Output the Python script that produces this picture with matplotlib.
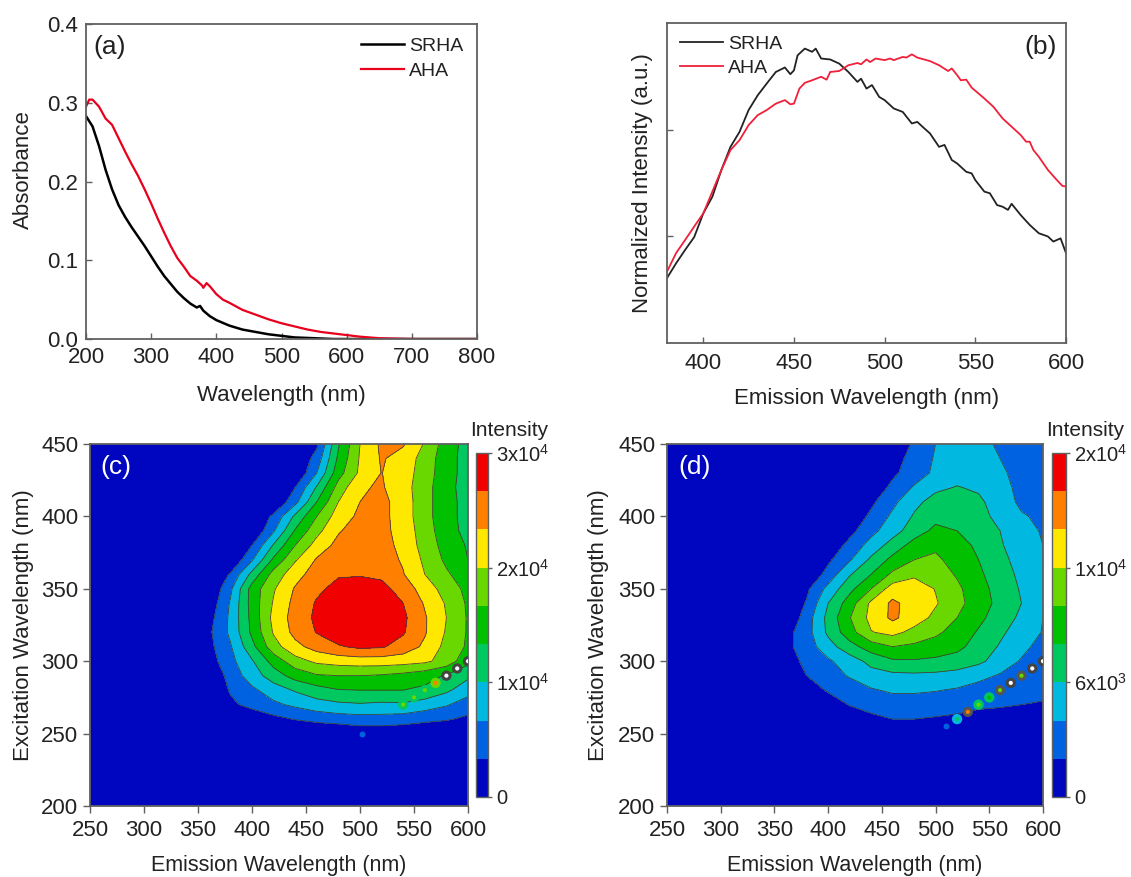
import numpy as np
import matplotlib
matplotlib.use('Agg')
import matplotlib.pyplot as plt

plt.rcParams['font.family'] = ['Liberation Sans', 'DejaVu Sans']
plt.rcParams['mathtext.default'] = 'regular'
plt.rcParams['text.color'] = '#222222'
plt.rcParams['axes.labelcolor'] = '#222222'
plt.rcParams['xtick.color'] = '#222222'
plt.rcParams['ytick.color'] = '#222222'

W, H = 1131, 877

# panel a
abs_wl_srha = [200, 210, 220, 230, 240, 250, 260, 270, 280, 290, 300, 310, 320, 330, 340, 350, 360, 370, 375, 380,
               390, 400, 420, 440, 460, 480, 500, 520, 550, 580, 800]
abs_srha = [0.283, 0.270, 0.245, 0.215, 0.190, 0.170, 0.155, 0.142, 0.130, 0.118, 0.105, 0.092, 0.080, 0.070, 0.060,
            0.052, 0.045, 0.040, 0.042, 0.036, 0.029, 0.024, 0.017, 0.012, 0.009, 0.006, 0.004, 0.002, 0.001, 0.0, 0.0]
abs_wl_aha = [200, 205, 210, 220, 230, 240, 250, 260, 270, 280, 290, 300, 310, 320, 330, 340, 350, 360, 370, 378,
              380, 385, 390, 400, 410, 420, 440, 460, 480, 500, 520, 540, 560, 580, 600, 620, 650, 700, 800]
abs_aha = [0.295, 0.304, 0.304, 0.295, 0.280, 0.272, 0.255, 0.238, 0.222, 0.207, 0.190, 0.172, 0.153, 0.135, 0.118,
           0.103, 0.092, 0.080, 0.074, 0.068, 0.065, 0.071, 0.067, 0.057, 0.050, 0.046, 0.037, 0.031, 0.025, 0.020,
           0.016, 0.012, 0.009, 0.007, 0.005, 0.003, 0.001, 0.0, 0.0]

# panel b
pl_wl_srha = [380, 385, 390, 395, 400, 405, 410, 415, 420, 425, 430, 435, 440, 445, 448, 450, 452, 456, 460, 462,
              465, 470, 475, 480, 485, 487, 490, 493, 497, 500, 505, 510, 515, 518, 522, 525, 530, 533, 537, 540,
              545, 548, 550, 555, 558, 562, 565, 568, 570, 575, 580, 585, 590, 593, 597, 600]
pl_srha = [.203, .249, .291, .331, .405, .457, .541, .613, .660, .728, .774, .811, .847, .861, .840, .852, .899, .920,
           .910, .920, .889, .886, .873, .847, .816, .826, .795, .806, .769, .759, .733, .722, .686, .691, .670, .655,
           .613, .619, .572, .561, .535, .530, .509, .473, .468, .431, .426, .416, .435, .400, .369, .343, .333, .317,
           .327, .281]
pl_wl_aha = [380, 385, 390, 395, 400, 405, 410, 415, 420, 425, 430, 435, 440, 445, 448, 450, 453, 456, 460, 465,
             468, 470, 475, 480, 485, 487, 490, 492, 495, 500, 503, 505, 510, 512, 515, 518, 525, 530, 535, 537,
             540, 542, 545, 548, 555, 560, 565, 570, 575, 578, 580, 582, 585, 590, 595, 598, 600]
pl_aha = [.223, .281, .322, .364, .405, .473, .541, .603, .634, .681, .712, .728, .748, .759, .746, .748, .795, .813,
          .821, .832, .823, .847, .850, .868, .875, .871, .886, .878, .889, .884, .889, .884, .894, .892, .902, .892,
          .881, .868, .850, .858, .837, .821, .823, .798, .764, .738, .702, .676, .650, .629, .629, .603, .582, .541,
          .509, .491, .489]

# EEM maps, values are given in colour-band units (one band = 1/9 of the scale)
em_grid = [250, 340, 360, 380, 400, 420, 440, 460, 480, 500, 520, 540, 560, 580, 600]
ex_grid = [200, 240, 250, 260, 270, 280, 290, 300, 310, 320, 330, 340, 350, 360, 370, 380, 390, 400, 410, 420, 430, 440, 450]

eem_c = [
    [0, 0, 0, 0, 0, 0, 0, 0, 0, 0, 0, 0, 0, 0],
    [0, 0, 0, 0, 0, 0, 0, 0, 0, 0, 0, 0, 0, 0],
    [0, 0, 0, 0, 0, 0, 0, 0, .3, .3, .2, 0, 0, 0],
    [0, 0, 0, .3, .7, 1.05, 1.3, 1.5, 1.6, 1.6, 1.5, 1.3, 1.1, .8],
    [0, 0, .8, 1.3, 1.8, 2.2, 2.6, 2.8, 2.9, 2.8, 2.85, 2.5, 2.1, 1.5],
    [0, 0, 1.1, 1.8, 2.5, 3.1, 3.6, 3.95, 4, 4, 4, 3.8, 3.2, 2.4],
    [0, 0, 1.4, 2.5, 3.5, 4.4, 4.9, 5, 5, 4.9, 4.7, 4.4, 3.9, 3.2],
    [0, .5, 1.7, 2.9, 4.4, 5.6, 6.2, 6.4, 6.5, 6.5, 6.4, 6.2, 5.6, 4.3],
    [0, .7, 1.9, 3.7, 5.6, 6.7, 7.4, 7.9, 8.2, 8.1, 7.6, 6.8, 5.7, 4.85],
    [0, .8, 2.2, 4.2, 6.1, 7.3, 8.05, 8.6, 8.9, 8.7, 8.1, 7.1, 5.9, 4.9],
    [0, .6, 2.2, 4.3, 6.3, 7.4, 8.2, 8.7, 8.9, 8.8, 8.2, 7.1, 6, 4.9],
    [0, .3, 2.1, 4.4, 6.1, 7.3, 8.1, 8.6, 8.9, 8.7, 8, 6.9, 5.9, 4.85],
    [0, 0, 1.8, 4.4, 5.9, 7.1, 7.8, 8.3, 8.6, 8.3, 7.6, 6.5, 5.6, 4.7],
    [0, 0, 1.1, 3.3, 5.4, 6.6, 7.5, 7.9, 7.9, 7.8, 7.05, 6, 5.15, 4.4],
    [0, 0, 0, 1.9, 4.2, 5.9, 7.1, 7.6, 7.8, 7.4, 6.9, 5.8, 4.8, 4],
    [0, 0, 0, 1, 3.1, 5, 6.4, 7.3, 7.7, 7.4, 6.7, 5.6, 4.6, 3.9],
    [0, 0, 0, 0, 1.9, 4.1, 5.7, 6.9, 7.5, 7.3, 6.6, 5.5, 4.4, 3.7],
    [0, 0, 0, 0, 1.2, 3.2, 5, 6.5, 7.2, 7.3, 6.5, 5.4, 4.3, 3.7],
    [0, 0, 0, 0, 0, 1.7, 4, 6, 7, 7.3, 6.5, 5.4, 4.3, 3.7],
    [0, 0, 0, 0, 0, 1, 3.1, 5.4, 6.9, 7.1, 6.4, 5.4, 4.3, 3.6],
    [0, 0, 0, 0, 0, 0, 2, 4.6, 6.2, 7.02, 6.5, 5.5, 4.4, 3.6],
    [0, 0, 0, 0, 0, 0, 1.4, 4.2, 6.1, 7.1, 6.6, 5.6, 4.4, 3.6],
    [0, 0, 0, 0, 0, 0, .8, 3.9, 6, 7.2, 7.1, 5.9, 4.5, 3.6],
]

eem_d = [
    [0, 0, 0, 0, 0, 0, 0, 0, 0, 0, 0, 0, 0, 0],
    [0, 0, 0, 0, 0, 0, 0, 0, 0, 0, 0, 0, 0, 0],
    [0, 0, 0, 0, 0, 0, 0, 0, 0, 0, 0, 0, 0, 0],
    [0, 0, 0, 0, .3, .8, 1, 1, .9, .8, .5, .4, .3, .2],
    [0, 0, 0, .5, 1.05, 1.3, 1.5, 1.5, 1.5, 1.35, 1.25, 1.15, 1, .95],
    [0, 0, .5, 1.1, 1.4, 1.9, 2.15, 2.15, 2.05, 1.9, 1.6, 1.4, 1.2, 1.15],
    [0, 0, 1, 1.5, 2.1, 2.6, 2.75, 2.8, 2.75, 2.6, 2.3, 1.9, 1.4, 1.05],
    [0, .4, 1.3, 1.85, 2.5, 3.3, 3.85, 3.9, 3.8, 3.6, 3.2, 2.6, 1.9, 1.3],
    [0, .7, 1.5, 2.6, 3.6, 4.5, 5, 4.8, 4.55, 4.25, 3.6, 2.9, 2.3, 1.6],
    [0, .6, 1.6, 3.2, 4.6, 5.95, 6.3, 5.7, 5.2, 4.6, 3.9, 3.2, 2.5, 1.95],
    [0, 0, 1.5, 3.3, 4.95, 6.3, 7.2, 6.5, 5.75, 5, 4.25, 3.5, 2.8, 2],
    [0, 0, 1.1, 3, 4.5, 6.2, 7.2, 6.6, 6.1, 5.3, 4.5, 3.7, 3, 2.4],
    [0, 0, .8, 2.3, 3.7, 5, 6.5, 6.6, 5.95, 5.2, 4.4, 3.6, 2.9, 2.3],
    [0, 0, 0, 1.4, 2.9, 4, 5.2, 5.8, 5.5, 4.9, 4.2, 3.4, 2.8, 2.2],
    [0, 0, 0, .8, 1.9, 3.2, 4.3, 5, 5.2, 4.6, 4, 3.3, 2.6, 2],
    [0, 0, 0, .3, 1.3, 2.4, 3.4, 4.4, 4.8, 4.4, 3.8, 3.1, 2.5, 2],
    [0, 0, 0, 0, .7, 1.7, 2.6, 3.5, 4.25, 4, 3.5, 3, 2.4, 1.9],
    [0, 0, 0, 0, .3, 1.2, 2.2, 3.1, 3.7, 3.8, 3.35, 2.7, 2.1, 1.8],
    [0, 0, 0, 0, 0, .8, 1.75, 2.75, 3.35, 3.5, 3.2, 2.5, 1.8, 1.6],
    [0, 0, 0, 0, 0, .3, 1.25, 2.1, 2.8, 3.05, 2.85, 2.25, 1.8, 1.6],
    [0, 0, 0, 0, 0, 0, .8, 1.5, 2.2, 2.6, 2.6, 2.1, 1.8, 1.6],
    [0, 0, 0, 0, 0, 0, .6, 1.35, 2.1, 2.45, 2.35, 2, 1.7, 1.5],
    [0, 0, 0, 0, 0, 0, 0, 1.2, 2, 2.3, 2.2, 1.9, 1.6, 1.4],
]

# scatter peak running along the diagonal
spot_em_c = [540, 550, 560, 570, 580, 590, 600]
spot_ex_c = [270, 275, 280, 285, 290, 295, 300]
spot_outer_c = ['#00c860', '#00c860', '#00c860', '#68d800', '#444444', '#444444', '#444444']
spot_inner_c = ['#68d800', '#68d800', '#68d800', '#ff8000', '#ffffff', '#ffffff', '#ffffff']
spot_em_d = [520, 530, 540, 550, 560, 570, 580, 590, 600]
spot_ex_d = [260, 265, 270, 275, 280, 285, 290, 295, 300]
spot_outer_d = ['#00b8e0', '#555555', '#00c860', '#00c860', '#555555', '#444444', '#555555', '#444444', '#444444']
spot_inner_d = ['#00c860', '#ff8000', '#68d800', '#00c000', '#68d800', '#ffffff', '#68d800', '#ffffff', '#ffffff']

band_colors = ['#0006bf', '#0062e0', '#00b8e0', '#00c860', '#00c000', '#68d800', '#ffe800', '#ff8000', '#f00000']
spine_color = '#606060'


def axes_px(fig, x0, y0, x1, y1):
    return fig.add_axes([x0 / W, 1 - y1 / H, (x1 - x0) / W, (y1 - y0) / H])


def style_spines(ax):
    for s in ax.spines.values():
        s.set_color(spine_color)
        s.set_linewidth(1.3)


def draw_eem(fig, box, cbox, data, vmax, tick_labels, letter, spots, extra_x, ylab_x, letter_x, title_x):
    ax = axes_px(fig, *box)
    levels = np.linspace(0, vmax, 10)
    z = np.pad(np.array(data, dtype=float), ((0, 0), (1, 0))) * vmax / 9
    cf = ax.contourf(em_grid, ex_grid, z, levels=levels, colors=band_colors, extend='neither')
    ax.contour(em_grid, ex_grid, z, levels=levels[1:-1], colors='#404040', linewidths=0.6)
    em, ex, outer, inner = spots
    ax.scatter(em, ex, s=55, c=outer, linewidths=0, zorder=3)
    ax.scatter(em, ex, s=9, c=inner, linewidths=0, zorder=4)
    ax.scatter(*extra_x, s=18, c='#0062e0', linewidths=0, zorder=3)
    ax.set_xlim(250, 600)
    ax.set_ylim(200, 450)
    ax.set_xticks(range(250, 601, 50))
    ax.set_yticks(range(200, 451, 50))
    ax.tick_params(direction='out', length=5, width=1, labelsize=16, color=spine_color, pad=3.5)
    ax.tick_params(axis='x', pad=5)
    ax.set_xlabel('Emission Wavelength (nm)', fontsize=15.5)
    ax.set_ylabel('Excitation Wavelength (nm)', fontsize=16)
    ax.xaxis.set_label_coords(0.5, -0.135)
    ax.yaxis.set_label_coords(ylab_x, 0.5)
    ax.text(letter_x, 0.936, letter, transform=ax.transAxes, color='white', fontsize=19, va='center')
    style_spines(ax)

    cax = axes_px(fig, *cbox)
    cb = fig.colorbar(cf, cax=cax, ticks=np.linspace(0, vmax, 4))
    cb.ax.set_yticklabels(tick_labels)
    cb.ax.tick_params(length=3, width=1, labelsize=14.5, color=spine_color, pad=3, right=True)
    cb.ax.minorticks_off()
    cb.outline.set_edgecolor(spine_color)
    cb.outline.set_linewidth(1)
    fig.text(title_x / W, 1 - 431 / H, 'Intensity', fontsize=15, ha='center', va='center')


fig = plt.figure(figsize=(W / 100, H / 100), dpi=100)

# (a)
ax_a = axes_px(fig, 86, 24, 477, 339)
ax_a.plot(abs_wl_srha, abs_srha, color='black', lw=1.8, label='SRHA')
ax_a.plot(abs_wl_aha, abs_aha, color='#e8001c', lw=1.6, label='AHA')
ax_a.set_xlim(200, 800)
ax_a.set_ylim(0, 0.4)
ax_a.set_xticks(range(200, 801, 100))
ax_a.set_yticks([0, 0.1, 0.2, 0.3, 0.4])
ax_a.set_yticklabels(['0.0', '0.1', '0.2', '0.3', '0.4'])
ax_a.tick_params(direction='in', length=4.5, width=1, labelsize=16, color=spine_color, pad=5.5)
ax_a.set_xlabel('Wavelength (nm)', fontsize=16)
ax_a.set_ylabel('Absorbance', fontsize=16)
ax_a.xaxis.set_label_coords(0.5, -0.146)
ax_a.yaxis.set_label_coords(-0.132, 0.537)
ax_a.text(0.02, 0.927, '(a)', transform=ax_a.transAxes, fontsize=19, va='center')
ax_a.legend(loc='upper right', frameon=False, fontsize=14, handlelength=2.25, handletextpad=0.25,
            labelspacing=0.38, borderaxespad=0.5, borderpad=0.2)
style_spines(ax_a)

# (b)
ax_b = axes_px(fig, 667, 23, 1066, 343)
ax_b.plot(pl_wl_srha, pl_srha, color='#222222', lw=1.3, label='SRHA')
ax_b.plot(pl_wl_aha, pl_aha, color='#f0203a', lw=1.3, label='AHA')
ax_b.set_xlim(380, 600)
ax_b.set_ylim(0, 1)
ax_b.set_xticks(range(400, 601, 50))
ax_b.set_yticks([1 / 3, 2 / 3])
ax_b.set_yticklabels([])
ax_b.tick_params(direction='in', length=4.5, width=1, labelsize=16, color=spine_color, pad=7)
ax_b.set_xlabel('Emission Wavelength (nm)', fontsize=16)
ax_b.set_ylabel('Normalized Intensity (a.u.)', fontsize=16)
ax_b.xaxis.set_label_coords(0.5, -0.14)
ax_b.yaxis.set_label_coords(-0.036, 0.5)
ax_b.text(0.937, 0.925, '(b)', transform=ax_b.transAxes, fontsize=19, va='center', ha='center')
ax_b.legend(loc='upper left', frameon=False, fontsize=14, handlelength=2.25, handletextpad=0.25,
            labelspacing=0.32, borderaxespad=0.45, borderpad=0.2)
style_spines(ax_b)

# (c) and (d)
draw_eem(fig, (90, 444, 468, 806), (476, 453, 488, 797), eem_c, 30000,
         ['0', r'1x10$^4$', r'2x10$^4$', r'3x10$^4$'], '(c)',
         (spot_em_c, spot_ex_c, spot_outer_c, spot_inner_c), ([502], [250]), -0.148, 0.027, 509)
draw_eem(fig, (667, 444, 1043, 806), (1052, 453, 1066, 797), eem_d, 20000,
         ['0', r'6x10$^3$', r'1x10$^4$', r'2x10$^4$'], '(d)',
         (spot_em_d, spot_ex_d, spot_outer_d, spot_inner_d), ([510], [255]), -0.154, 0.03, 1085)

fig.savefig('out.png', dpi=100)
